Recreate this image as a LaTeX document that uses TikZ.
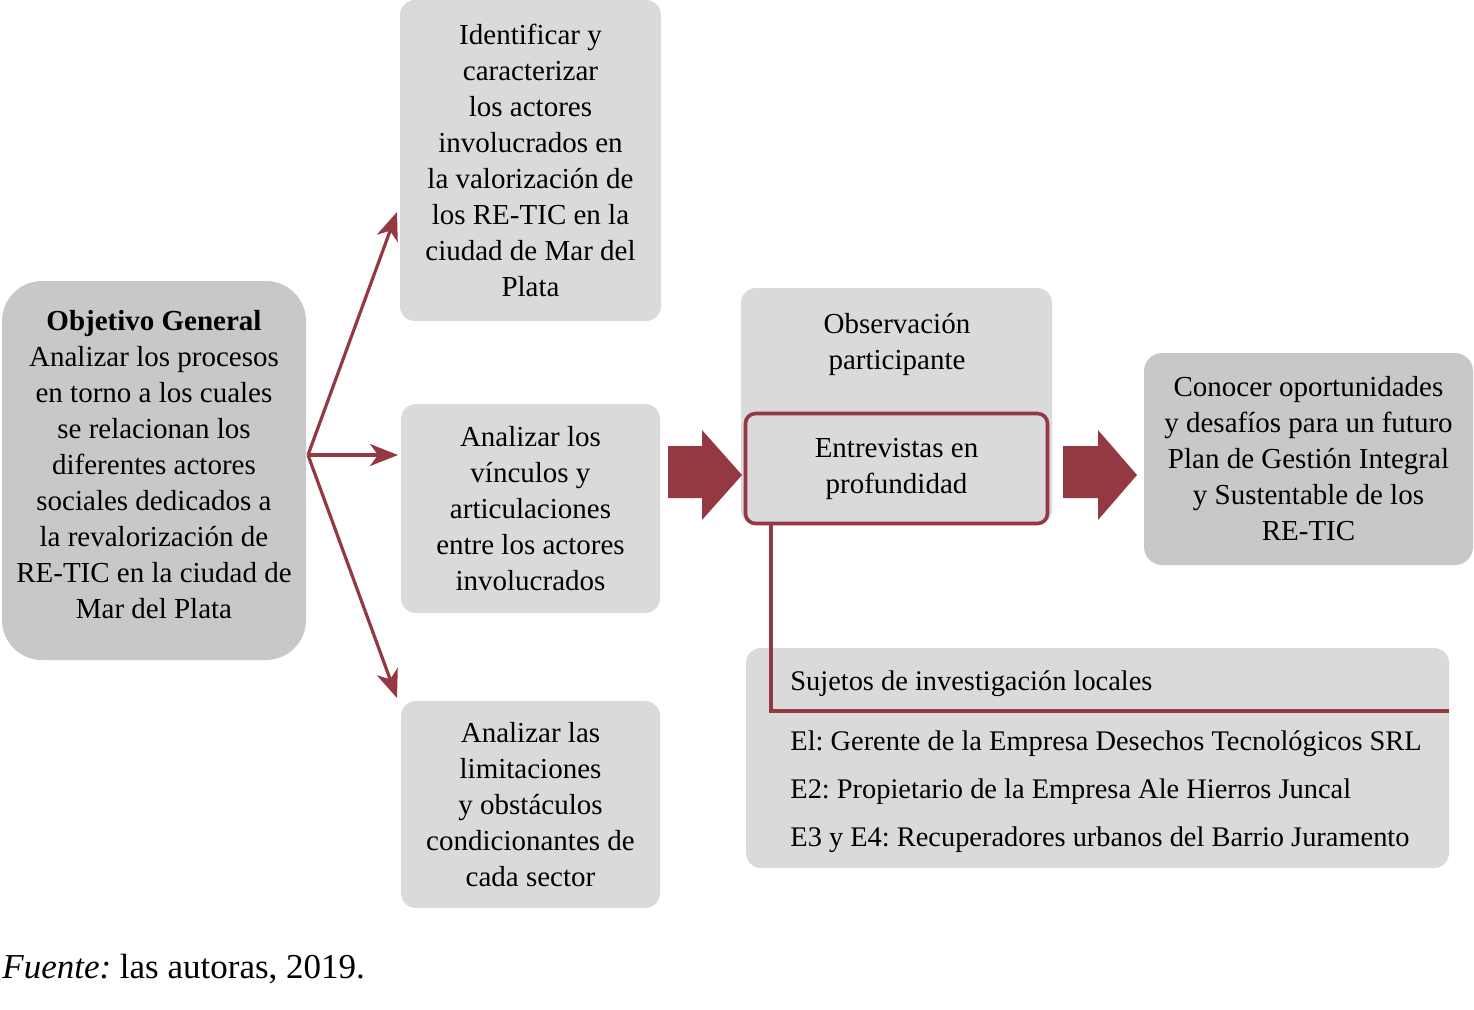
\documentclass[tikz,border=0pt]{standalone}
\usepackage{fontspec}
\setmainfont{Liberation Serif}
\usetikzlibrary{arrows.meta}
\definecolor{boxlight}{RGB}{218,218,218}
\definecolor{boxdark}{RGB}{200,200,200}
\definecolor{wine}{RGB}{148,56,66}
\frenchspacing
\begin{document}
\begin{tikzpicture}[x=0.5pt,y=-0.5pt,
  box/.style={rounded corners=7.5pt, inner sep=0pt, align=center, anchor=center,
    font=\fontsize{14.5}{18}\selectfont},
  light/.style={box, fill=boxlight},
  dark/.style={box, fill=boxdark},
  txt/.style={inner sep=0pt, align=center, font=\fontsize{14.5}{18}\selectfont},
  ltxt/.style={inner sep=0pt, anchor=base west, font=\fontsize{14.2}{18}\selectfont},
  arr/.style={draw=wine, line width=1.6pt, -{Stealth[length=14pt,width=11pt,inset=4pt]}},
  wineline/.style={draw=wine, line width=1.8pt},
  bigarrow/.style={fill=wine, draw=none}
]
\useasboundingbox (0,0) rectangle (1474,1009);

% Objetivo general
\node[dark, rounded corners=20pt, minimum width=152pt, minimum height=189.5pt] (obj) at (154,470.5) {};
\node[txt] (objtxt) at (154,465)
  {\textbf{Objetivo General}\\Analizar los procesos\\en torno a los cuales\\se relacionan los\\diferentes actores\\sociales dedicados a\\la revalorización de\\RE-TIC en la ciudad de\\Mar del Plata};

% Specific objectives
\node[light, minimum width=130.5pt, minimum height=160.5pt] (ident) at (530.5,160.5)
  {Identificar y\\caracterizar\\los actores\\involucrados en\\la valorización de\\los RE-TIC en la\\ciudad de Mar del\\Plata};
\node[light, minimum width=129.5pt, minimum height=104.5pt] (vinc) at (530.5,508.5)
  {Analizar los\\vínculos y\\articulaciones\\entre los actores\\involucrados};
\node[light, minimum width=129.5pt, minimum height=103.5pt] (lim) at (530.5,804.5)
  {Analizar las\\limitaciones\\y obstáculos\\condicionantes de\\cada sector};

% Methods
\node[light, minimum width=155.5pt, minimum height=118.5pt] (obs) at (896.5,406.5) {};
\node[txt] (obstxt) at (897,344) {Observación\\participante};
\node[box, fill=boxlight, draw=wine, line width=1.8pt, rounded corners=5pt,
  minimum width=151pt, minimum height=55pt] (entr) at (896.5,468.5)
  {Entrevistas en\\profundidad};

% Result
\node[dark, rounded corners=9pt, minimum width=164.5pt, minimum height=106pt] (con) at (1308.5,459)
  {Conocer oportunidades\\y desafíos para un futuro\\Plan de Gestión Integral\\y Sustentable de los\\RE-TIC};

% Subjects
\node[light, minimum width=351.5pt, minimum height=110pt] (suj) at (1097.5,758) {};
\coordinate (lineStart) at (771,525);
\coordinate (lineEnd) at (1449,711);
\draw[wineline] (lineStart) |- (lineEnd);
\node[ltxt] (s0) at (790,690) {Sujetos de investigación locales};
\node[ltxt] (s1) at (790,750) {El: Gerente de la Empresa Desechos Tecnológicos SRL};
\node[ltxt] (s2) at (790,798) {E2: Propietario de la Empresa Ale Hierros Juncal};
\node[ltxt] (s3) at (790,846) {E3 y E4: Recuperadores urbanos del Barrio Juramento};

% Fork arrows
\coordinate (fork) at (308,455);
\coordinate (tipA) at (397,212);
\coordinate (tipB) at (398,455);
\coordinate (tipC) at (397,698);
\draw[arr] (fork) -- (tipA);
\draw[arr] (fork) -- (tipB);
\draw[arr] (fork) -- (tipC);

% Big block arrows
\fill[bigarrow] (668,446) -- (702,446) -- (702,430) -- (742,475) -- (702,520) -- (702,498) -- (668,498) -- cycle;
\fill[bigarrow] (1063,446) -- (1098,446) -- (1098,430) -- (1137,475) -- (1098,520) -- (1098,498) -- (1063,498) -- cycle;

% Source
\node[inner sep=0pt, anchor=base west, font=\fontsize{17.5}{20}\selectfont] (src) at (2,978)
  {\textit{Fuente:} las autoras, 2019.};
\end{tikzpicture}
\end{document}
